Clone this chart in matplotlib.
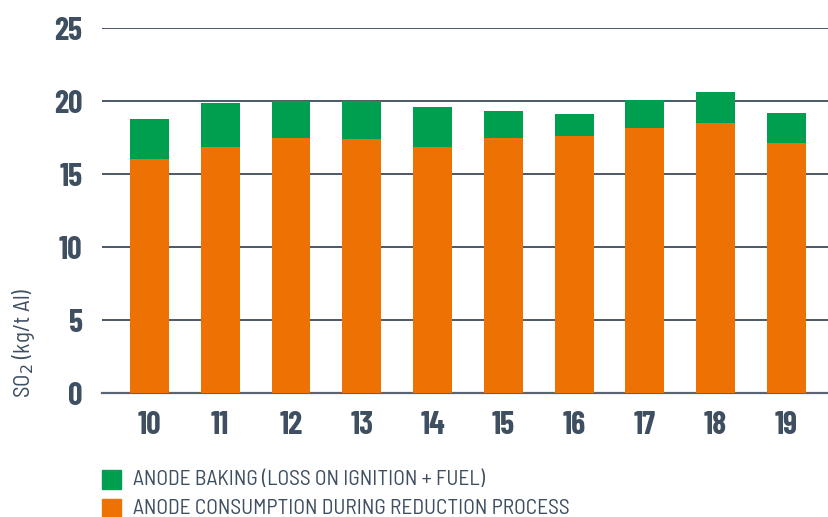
import matplotlib
matplotlib.use("Agg")
import matplotlib.pyplot as plt
from matplotlib.patches import Rectangle

years = ["10", "11", "12", "13", "14", "15", "16", "17", "18", "19"]
reduction = [16.05, 16.87, 17.49, 17.42, 16.87, 17.49, 17.62, 18.17, 18.51, 17.14]
total = [18.79, 19.88, 20.0, 20.0, 19.61, 19.34, 19.13, 20.09, 20.64, 19.2]
baking = [t - r for t, r in zip(total, reduction)]
yticks = [0, 5, 10, 15, 20, 25]
legend_labels = ["ANODE BAKING (LOSS ON IGNITION + FUEL)",
                 "ANODE CONSUMPTION DURING REDUCTION PROCESS"]

TICKFONT = ["Barlow Condensed", "DejaVu Sans"]
TEXTFONT = ["Barlow Semi Condensed", "DejaVu Sans"]

ORANGE = "#ee7203"
GREEN = "#009e4f"
TEXT = "#3e4f62"
GRID = "#4c5866"

W, H = 829, 517
fig = plt.figure(figsize=(W/100, H/100), dpi=100)
ax = fig.add_axes([102/W, 1 - 393.3/H, (W-102)/W, (393.3-28.3)/H])

x = list(range(len(years)))
ax.bar(x, reduction, width=0.55, color=ORANGE, zorder=3)
ax.bar(x, baking, bottom=reduction, width=0.55, color=GREEN, zorder=3)

ax.set_ylim(0, 25)
ax.set_xlim(-0.67, 9.6)
ax.set_yticks(yticks)
ax.yaxis.grid(True, color=GRID, linewidth=1.4, zorder=1)
ax.set_axisbelow(True)
for s in ["top", "right", "left"]:
    ax.spines[s].set_visible(False)
ax.spines["bottom"].set_color("#5a6472")
ax.spines["bottom"].set_linewidth(1.6)
ax.tick_params(axis="both", length=0)
ax.tick_params(axis="y", pad=14)
ax.tick_params(axis="x", pad=13)
ax.set_xticks(x)
ax.set_xticklabels(years)
for lab in ax.get_xticklabels() + ax.get_yticklabels():
    lab.set_fontfamily(TICKFONT)
    lab.set_fontweight("bold")
    lab.set_fontsize(23)
    lab.set_color(TEXT)

fig.text(24/W, 1 - 398/H, "SO$_2$ (kg/t Al)", rotation=90, fontsize=16.5, color=TEXT,
         family=TEXTFONT, ha="center", va="bottom")

# legend
for i, (lab, col) in enumerate(zip(legend_labels, [GREEN, ORANGE])):
    yb = 1 - (489 + i * 29) / H
    fig.patches.append(Rectangle((102/W, yb), 19/W, 19/H, transform=fig.transFigure,
                                 color=col, figure=fig))
    fig.text(133/W, yb + 9.5/H, lab, fontsize=15.5, color=TEXT, family=TEXTFONT,
             va="center", ha="left")

fig.savefig("out.png", dpi=100)
